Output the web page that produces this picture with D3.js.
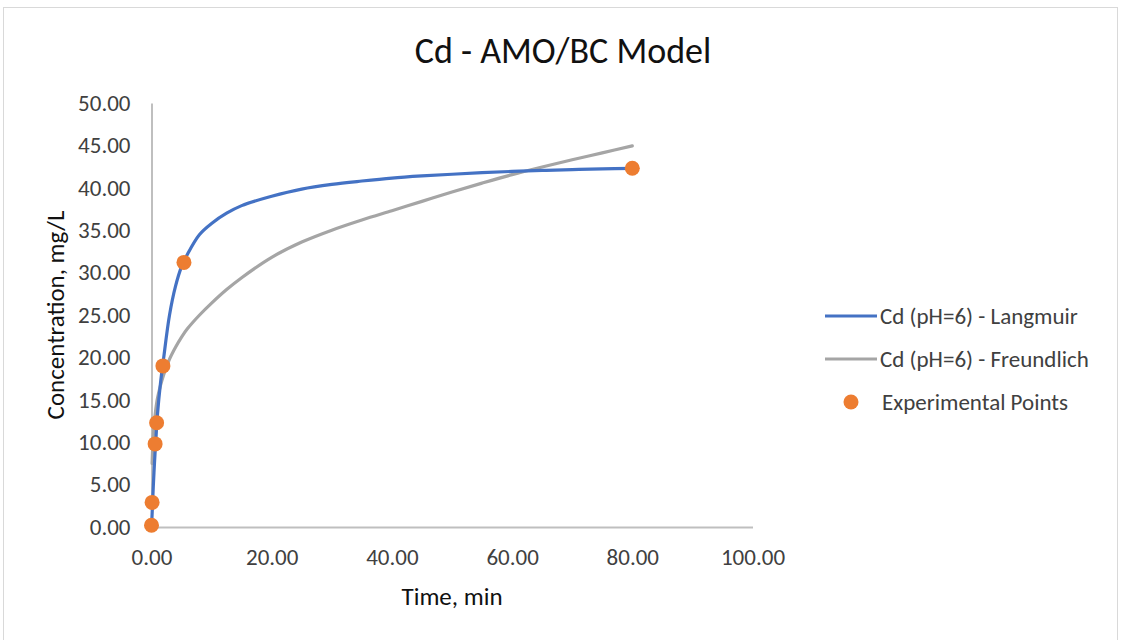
<!DOCTYPE html>
<html>
<head>
<meta charset="utf-8">
<script src="https://cdn.jsdelivr.net/npm/d3@7"></script>
<style>
  html, body { margin: 0; padding: 0; background: #fff; }
  text { font-family: Carlito, Calibri, Lato, "Open Sans", sans-serif; fill: #404040; }
</style>
</head>
<body>
<svg id="chart" width="1121" height="640"></svg>
<script>
const title = "Cd - AMO/BC Model";
const xTitle = "Time, min";
const yTitle = "Concentration, mg/L";
const seriesNames = ["Cd (pH=6) - Langmuir", "Cd (pH=6) - Freundlich", "Experimental Points"];
const xTicks = [0, 20, 40, 60, 80, 100];
const yTicks = [0, 5, 10, 15, 20, 25, 30, 35, 40, 45, 50];

// Model curves
const langT = [0, 0.1, 0.2, 0.3, 0.5, 0.7, 1, 1.5, 2, 3, 4, 5, 6, 8, 10, 12.5, 15, 20, 25, 30, 35, 40, 45, 50, 55, 60, 65, 70, 75, 80];
const langQ = [0, 1.5, 3.2, 4.8, 7.6, 10.0, 13.3, 17.0, 19.8, 25.0, 28.4, 30.7, 32.2, 34.5, 35.8, 37.0, 37.9, 39.0, 39.85, 40.4, 40.8, 41.15, 41.4, 41.6, 41.78, 41.93, 42.05, 42.15, 42.23, 42.3];
const freuT = [0.1, 0.2, 0.3, 0.5, 0.7, 1, 1.5, 2, 3, 4, 5, 6, 8, 10, 12.5, 15, 20, 25, 30, 35, 40, 45, 50, 55, 60, 65, 70, 75, 80];
const freuQ = [7.5, 9.4, 10.7, 12.5, 13.8, 15.2, 16.7, 17.9, 19.8, 21.2, 22.4, 23.4, 25.0, 26.4, 28.0, 29.4, 31.8, 33.6, 35.0, 36.2, 37.3, 38.4, 39.5, 40.55, 41.55, 42.45, 43.3, 44.12, 44.95];

// Experimental points
const expT = [0, 0.1, 0.6, 0.85, 1.9, 5.4, 80];
const expQ = [0.2, 2.9, 9.8, 12.3, 19.0, 31.2, 42.3];

const svg = d3.select("#chart");
const FONT = "Carlito, Calibri, Lato, 'Open Sans', sans-serif";

// outer chart border
svg.append("rect").attr("x", 3.5).attr("y", 7.5).attr("width", 1114).attr("height", 640)
  .attr("fill", "#fff").attr("stroke", "#d9d9d9").attr("stroke-width", 1);

const x = d3.scaleLinear().domain([0, 100]).range([151.5, 752.5]);
const y = d3.scaleLinear().domain([0, 50]).range([527, 103]);

// axes
const xAxis = d3.axisBottom(x).tickValues(xTicks).tickFormat(d3.format(".2f")).tickSize(0).tickPadding(22);
const yAxis = d3.axisLeft(y).tickValues(yTicks).tickFormat(d3.format(".2f")).tickSize(0).tickPadding(21);

const gx = svg.append("g").attr("transform", `translate(0,${y(0)})`).call(xAxis);
const gy = svg.append("g").attr("transform", `translate(${x(0)},0)`).call(yAxis);
[gx, gy].forEach(g => {
  g.select(".domain").attr("stroke", "#bfbfbf").attr("stroke-width", 2);
  g.selectAll("text").attr("font-size", 23).style("font-family", FONT).attr("fill", "#404040");
});

// curves
const lineGen = d3.line().x(d => x(d[0])).y(d => y(d[1])).curve(d3.curveCatmullRom.alpha(0.5));
svg.append("path").datum(freuT.map((t, i) => [t, freuQ[i]]))
  .attr("d", lineGen).attr("fill", "none").attr("stroke", "#a5a5a5").attr("stroke-width", 3.2).attr("stroke-linecap", "round");
svg.append("path").datum(langT.map((t, i) => [t, langQ[i]]))
  .attr("d", lineGen).attr("fill", "none").attr("stroke", "#4472c4").attr("stroke-width", 3.2).attr("stroke-linecap", "round");

// points
svg.append("g").selectAll("circle").data(expT.map((t, i) => [t, expQ[i]])).join("circle")
  .attr("cx", d => x(d[0])).attr("cy", d => y(d[1])).attr("r", 7.5).attr("fill", "#ed7d31");

// titles
svg.append("text").attr("x", 563).attr("y", 63).attr("text-anchor", "middle").attr("font-size", 36).style("fill", "#111").text(title);
svg.append("text").attr("x", 452).attr("y", 605).attr("text-anchor", "middle").attr("font-size", 25).style("fill", "#111").text(xTitle);
svg.append("text").attr("transform", "translate(64,315) rotate(-90)").attr("text-anchor", "middle").attr("font-size", 25).style("fill", "#111").text(yTitle);

// legend
const leg = svg.append("g");
const colors = ["#4472c4", "#a5a5a5", "#ed7d31"];
const legY = [316, 359, 402];
seriesNames.forEach((name, i) => {
  if (i < 2) {
    leg.append("line").attr("x1", 825).attr("x2", 877).attr("y1", legY[i]).attr("y2", legY[i])
      .attr("stroke", colors[i]).attr("stroke-width", 3.2);
  } else {
    leg.append("circle").attr("cx", 851).attr("cy", legY[i]).attr("r", 7.5).attr("fill", colors[i]);
  }
  leg.append("text").attr("x", i < 2 ? 880 : 882).attr("y", legY[i]).attr("dy", "0.35em")
    .attr("font-size", 23).text(name);
});
</script>
</body>
</html>
